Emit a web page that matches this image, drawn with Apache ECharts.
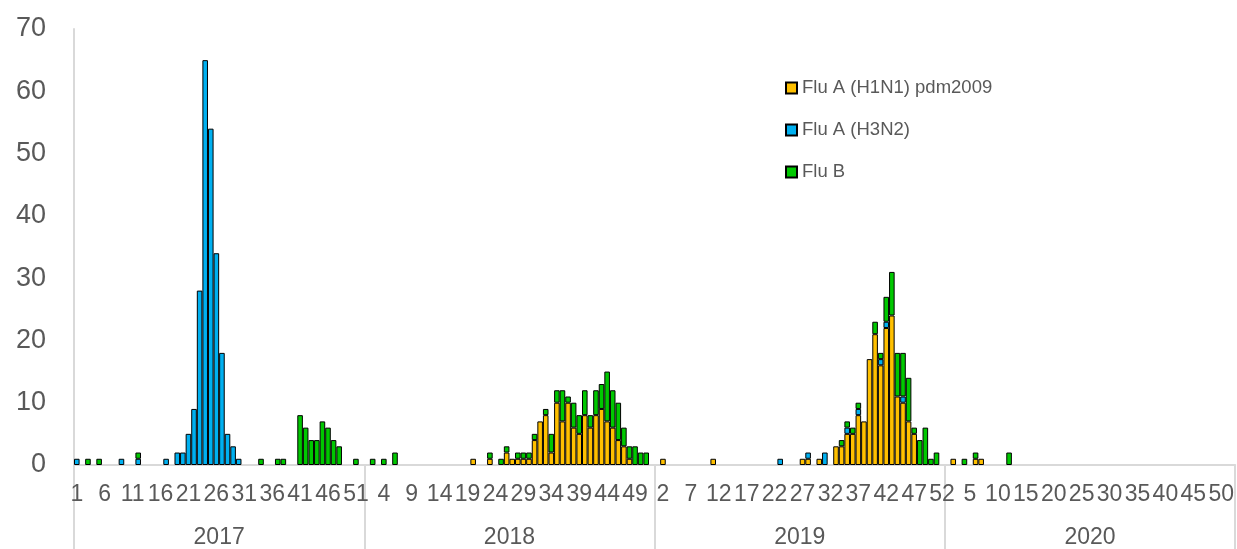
<!DOCTYPE html>
<html>
<head>
<meta charset="utf-8">
<script src="https://cdn.jsdelivr.net/npm/echarts@6/dist/echarts.min.js"></script>
<style>
  html, body { margin: 0; padding: 0; background: #fff; }
  #chart { width: 1237px; height: 549px; }
</style>
</head>
<body>
<div id="chart"></div>
<script>
const years = ['2017', '2018', '2019', '2020'];
const yTicks = [0, 10, 20, 30, 40, 50, 60, 70];
const legendNames = ['Flu A (H1N1) pdm2009', 'Flu A (H3N2)', 'Flu B'];

// weekly counts, weeks 1-52 per year (rows of 13 weeks)
const h1n1_2017 = [
  0,0,0,0,0,0,0,0,0,0,0,0,0,
  0,0,0,0,0,0,0,0,0,0,0,0,0,
  0,0,0,0,0,0,0,0,0,0,0,0,0,
  0,0,0,0,0,0,0,0,0,0,0,0,0];
const h1n1_2018 = [
  0,0,0,0,0,0,0,0,0,0,0,0,0,
  0,0,0,0,0,0,1,0,0,1,0,0,2,
  1,1,1,1,4,7,8,2,10,7,10,6,5,
  8,6,8,9,7,6,4,3,1,0,0,0,0];
const h1n1_2019 = [
  0,1,0,0,0,0,0,0,0,0,1,0,0,
  0,0,0,0,0,0,0,0,0,0,0,0,0,
  1,1,0,1,0,0,3,3,5,5,8,7,17,
  21,16,22,24,11,10,7,5,0,0,0,0,0];
const h1n1_2020 = [
  0,1,0,0,0,1,1,0,0,0,0,0,0,
  0,0,0,0,0,0,0,0,0,0,0,0,0,
  0,0,0,0,0,0,0,0,0,0,0,0,0,
  0,0,0,0,0,0,0,0,0,0,0,0,0];

const h3n2_2017 = [
  1,0,0,0,0,0,0,0,1,0,0,1,0,
  0,0,0,1,0,2,2,5,9,28,65,54,34,
  18,5,3,1,0,0,0,0,0,0,0,0,0,
  0,0,0,0,0,0,0,0,0,0,0,0,0];
const h3n2_2018 = [
  0,0,0,0,0,0,0,0,0,0,0,0,0,
  0,0,0,0,0,0,0,0,0,0,0,0,0,
  0,0,0,0,0,0,0,0,0,0,0,0,0,
  0,0,0,0,0,0,0,0,0,0,0,0,0];
const h3n2_2019 = [
  0,0,0,0,0,0,0,0,0,0,0,0,0,
  0,0,0,0,0,0,0,0,0,1,0,0,0,
  0,1,0,0,2,0,0,0,1,0,1,0,0,
  0,1,1,0,0,1,0,0,0,0,0,0,0];
const h3n2_2020 = [
  0,0,0,0,0,0,0,0,0,0,0,0,0,
  0,0,0,0,0,0,0,0,0,0,0,0,0,
  0,0,0,0,0,0,0,0,0,0,0,0,0,
  0,0,0,0,0,0,0,0,0,0,0,0,0];

const fluB_2017 = [
  0,0,1,0,1,0,0,0,0,0,0,1,0,
  0,0,0,0,0,0,0,0,0,0,0,0,0,
  0,0,0,0,0,0,0,1,0,0,1,1,0,
  0,8,6,4,4,7,6,4,3,0,0,1,0];
const fluB_2018 = [
  0,1,0,1,0,2,0,0,0,0,0,0,0,
  0,0,0,0,0,0,0,0,0,1,0,1,1,
  0,1,1,1,1,0,1,3,2,5,1,4,3,
  4,2,4,4,8,6,6,3,2,3,2,2,0];
const fluB_2019 = [
  0,0,0,0,0,0,0,0,0,0,0,0,0,
  0,0,0,0,0,0,0,0,0,0,0,0,0,
  0,0,0,0,0,0,0,1,1,1,1,0,0,
  2,1,4,7,7,7,7,1,4,6,1,2,0];
const fluB_2020 = [
  0,0,0,1,0,1,0,0,0,0,0,2,0,
  0,0,0,0,0,0,0,0,0,0,0,0,0,
  0,0,0,0,0,0,0,0,0,0,0,0,0,
  0,0,0,0,0,0,0,0,0,0,0,0,0];

const h1n1 = [].concat(h1n1_2017, h1n1_2018, h1n1_2019, h1n1_2020);
const h3n2 = [].concat(h3n2_2017, h3n2_2018, h3n2_2019, h3n2_2020);
const fluB = [].concat(fluB_2017, fluB_2018, fluB_2019, fluB_2020);

// week number categories
const weeks = [];
years.forEach(() => {
  for (let w = 1; w <= 52; w++) weeks.push(String(w));
});

const FONT = '"Liberation Sans", Arial, sans-serif';
const TXT = '#595959';
const AXIS = '#d9d9d9';

// zero weeks get no bar at all
const clean = arr => arr.map(v => (v === 0 ? '-' : v));

const barStyle = color => ({
  color: color,
  borderColor: '#000',
  borderWidth: 1
});

const chart = echarts.init(document.getElementById('chart'));

const option = {
  animation: false,
  textStyle: { fontFamily: FONT },
  grid: { left: 74, right: 1, top: 29, bottom: 84, containLabel: false },
  legend: {
    orient: 'vertical',
    left: 780,
    top: 73,
    icon: 'rect',
    itemWidth: 11,
    itemHeight: 11,
    itemGap: 22,
    data: legendNames,
    textStyle: { color: TXT, fontSize: 18.5, fontFamily: FONT, lineHeight: 20 }
  },
  xAxis: [
    {
      type: 'category',
      data: weeks,
      gridIndex: 0,
      position: 'bottom',
      axisLine: { lineStyle: { color: AXIS, width: 2 } },
      axisTick: { show: false },
      axisLabel: { interval: 4, color: TXT, fontSize: 23, margin: 18, fontFamily: FONT }
    },
    {
      type: 'category',
      data: years,
      gridIndex: 0,
      position: 'bottom',
      axisLine: { show: false },
      axisTick: { show: true, length: 84, lineStyle: { color: AXIS, width: 2 } },
      axisLabel: { color: TXT, fontSize: 23, margin: 61, fontFamily: FONT }
    }
  ],
  yAxis: {
    type: 'value',
    min: yTicks[0],
    max: yTicks[yTicks.length - 1],
    interval: 10,
    splitLine: { show: false },
    axisLine: { show: true, lineStyle: { color: AXIS, width: 2 } },
    axisTick: { show: false },
    axisLabel: { color: TXT, fontSize: 27, margin: 28, fontFamily: FONT }
  },
  series: [
    {
      name: legendNames[0],
      type: 'bar',
      stack: 'flu',
      barCategoryGap: '0%',
      itemStyle: barStyle('#FFC000'),
      data: clean(h1n1)
    },
    {
      name: legendNames[1],
      type: 'bar',
      stack: 'flu',
      barCategoryGap: '0%',
      itemStyle: barStyle('#00B0F0'),
      data: clean(h3n2)
    },
    {
      name: legendNames[2],
      type: 'bar',
      stack: 'flu',
      barCategoryGap: '0%',
      itemStyle: barStyle('#00C800'),
      data: clean(fluB)
    }
  ]
};

chart.setOption(option);
</script>
</body>
</html>
